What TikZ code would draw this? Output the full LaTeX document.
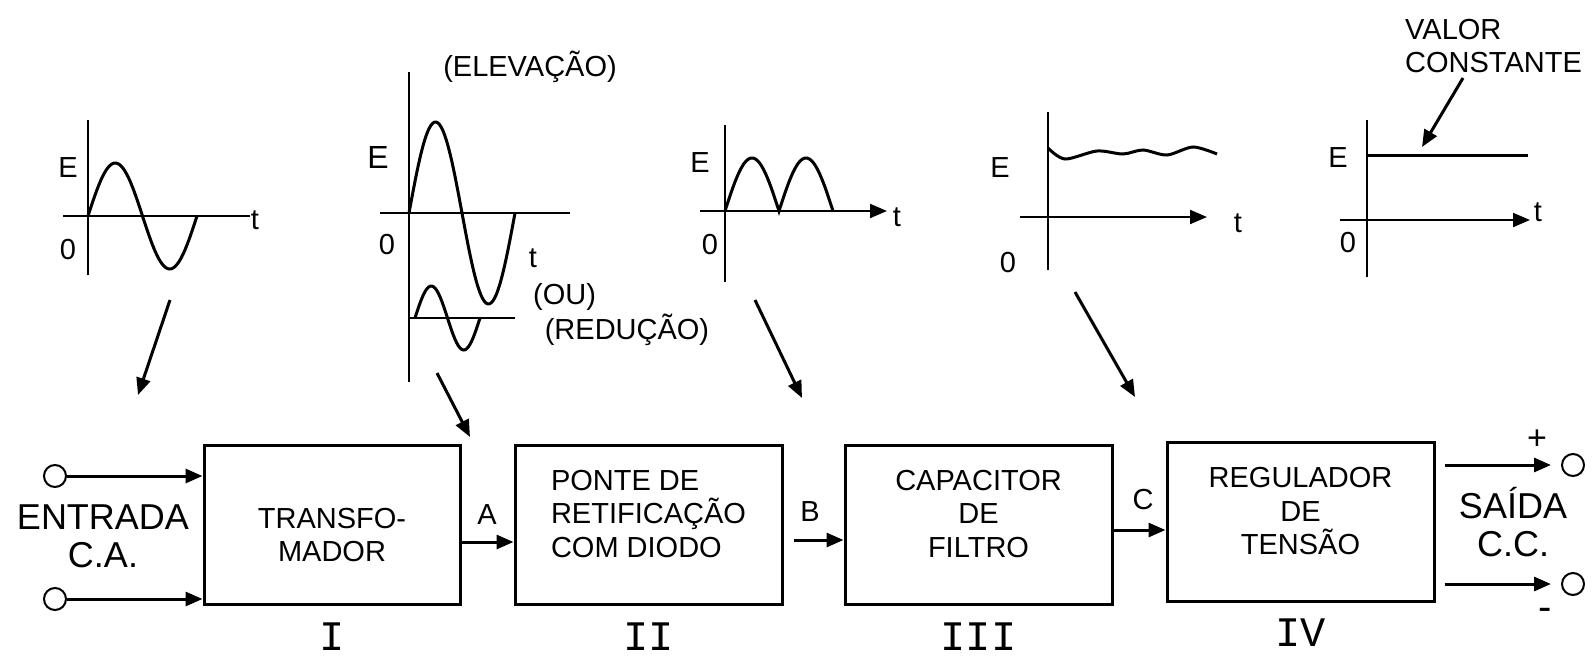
\documentclass[tikz,border=0pt]{standalone}
\usepackage{fontspec}
\setmainfont{Liberation Sans}
\newfontfamily\monoroman{Liberation Mono}
\usetikzlibrary{arrows.meta,positioning,calc}
\newcommand{\lblfont}{\fontsize{29}{33.5}\selectfont}
\newcommand{\capsfont}{\fontsize{36}{38}\selectfont}
\newcommand{\numfont}{\monoroman\fontsize{42}{42}\selectfont}

\begin{document}
\begin{tikzpicture}[
    x=1pt, y=-1pt,
    >={Triangle[length=17pt,width=14pt]},
    block/.style={rectangle, draw, line width=3pt, minimum width=267pt, minimum height=159pt},
    blocktext/.style={inner sep=0pt, align=center, font=\lblfont},
    lbl/.style={inner sep=0pt, font=\lblfont},
    caps/.style={inner sep=0pt, align=center, font=\capsfont},
    numeral/.style={inner sep=0pt, font=\numfont},
    term/.style={circle, draw, line width=2pt, minimum size=22pt, inner sep=0pt},
    axis/.style={line width=2pt},
    wave/.style={line width=3pt},
    flow/.style={->, line width=3pt}
]
    \useasboundingbox (0,0) rectangle (1596,657);

    % Blocks
    \node[block, minimum width=256pt] (trafo) at (332,525) {};
    \node[block, right=52pt of trafo] (ponte) {};
    \node[block, right=60pt of ponte] (filtro) {};
    \node[block, right=52pt of filtro, yshift=3.5pt] (regul) {};

    \node[blocktext] (trafo-txt) at ([yshift=-10pt]trafo.center) {TRANSFO-\\MADOR};
    \node[blocktext, align=left] (ponte-txt) at ([yshift=11pt]ponte.center) {PONTE DE\\RETIFICAÇÃO\\COM DIODO};
    \node[blocktext] (filtro-txt) at ([yshift=11pt]filtro.center) {CAPACITOR\\DE\\FILTRO};
    \node[blocktext] (regul-txt) at ([yshift=10pt]regul.center) {REGULADOR\\DE\\TENSÃO};

    \node[numeral, below=17pt of trafo] (n1) {I};
    \node[numeral, below=17pt of ponte] (n2) {II};
    \node[numeral, below=17pt of filtro] (n3) {III};
    \node[numeral, below=16pt of regul] (n4) {IV};

    % Input
    \node[term] (in1) at (55,476) {};
    \node[term] (in2) at (55,599) {};
    \node[caps] (entrada) at (103,536) {ENTRADA\\C.A.};
    \draw[flow] (in1) -- (in1 -| trafo.west);
    \draw[flow] (in2) -- (in2 -| trafo.west);

    % Links between blocks
    \draw[flow] ([yshift=-17pt]trafo.east) -- ([yshift=-17pt]trafo.east -| ponte.west);
    \draw[flow] ([xshift=10pt,yshift=-15pt]ponte.east) -- ([yshift=-15pt]ponte.east -| filtro.west);
    \draw[flow] ([yshift=-5pt]filtro.east) -- ([yshift=-5pt]filtro.east -| regul.west);
    \node[lbl] (la) at (487,515) {A};
    \node[lbl] (lb) at (810,512) {B};
    \node[lbl] (lc) at (1143,500) {C};

    % Output
    \node[term] (out1) at (1573,465) {};
    \node[term] (out2) at (1573,584) {};
    \draw[flow] ([xshift=9pt]regul.east |- out1) -- ([xshift=-10pt]out1.west);
    \draw[flow] ([xshift=9pt]regul.east |- out2) -- ([xshift=-10pt]out2.west);
    \node[lbl, font=\fontsize{34}{34}\selectfont] (plus) at (1537,440) {+};
    \node[lbl, font=\fontsize{40}{40}\selectfont] (minus) at (1545,614) {-};
    \node[caps] (saida) at (1513,522) {SAÍDA\\C.C.};

    % AC input wave
    \begin{scope}[shift={(88,216)}, yscale=-1]
        \draw[axis] (0,-59) -- (0,96);
        \draw[axis] (-25,0) -- (162,0);
        \draw[wave] plot[domain=0:109, samples=60, smooth] (\x, {53*sin(\x/109*360)});
        \node[lbl] (e1) at (-20,48) {E};
        \node[lbl] (o1) at (-20,-34) {0};
        \node[lbl] (t1) at (167,-4) {t};
    \end{scope}
    \draw[flow] (170,300) -- (138,395);

    % Transformer output
    \begin{scope}[shift={(409,213)}, yscale=-1]
        \draw[axis] (0,-169) -- (0,141);
        \draw[axis] (-29,0) -- (161,0);
        \draw[wave] plot[domain=0:106, samples=60, smooth] (\x, {91*sin(\x/106*360)});
        \draw[axis] (0,-105) -- (106,-105);
        \draw[wave] plot[domain=6:71, samples=40, smooth] (\x, {-105+32*sin((\x-6)/65*360)});
        \node[lbl, font=\fontsize{32}{32}\selectfont] (e2) at (-31,56) {E};
        \node[lbl] (o2) at (-22,-32) {0};
        \node[lbl] (t2) at (124,-45) {t};
        \node[lbl] (elev) at (121,146) {(ELEVAÇÃO)};
        \node[lbl, anchor=west] (ou) at (124,-84) {(OU)};
        \node[lbl] (redu) at (218,-117) {(REDUÇÃO)};
    \end{scope}
    \draw[flow] (437,373) -- (470,437);

    % Rectified wave
    \begin{scope}[shift={(725,211)}, yscale=-1]
        \draw[axis] (0,-71) -- (0,86);
        \draw[axis, ->] (-25,0) -- (162,0);
        \draw[wave] plot[domain=0:108, samples=109] (\x, {53*abs(sin(\x/54*180))});
        \node[lbl] (e3) at (-25,48) {E};
        \node[lbl] (o3) at (-15,-34) {0};
        \node[lbl] (t3) at (172,-6) {t};
    \end{scope}
    \draw[flow] (755,300) -- (802,398);

    % Filtered wave
    \begin{scope}[shift={(1048,217)}, yscale=-1]
        \draw[axis] (0,-53) -- (0,105);
        \draw[axis, ->] (-28,0) -- (159,0);
        \draw[wave] plot[smooth] coordinates {(0,69) (17,58) (49,66) (75,63) (95,67) (119,62) (145,70) (169,63)};
        \node[lbl] (e4) at (-48,49) {E};
        \node[lbl] (o4) at (-40,-46) {0};
        \node[lbl] (t4) at (190,-6) {t};
    \end{scope}
    \draw[flow] (1075,292) -- (1135,397);

    % Regulated output
    \begin{scope}[shift={(1367,220)}, yscale=-1]
        \draw[axis] (0,-57) -- (0,100);
        \draw[axis, ->] (-27,0) -- (163,0);
        \draw[wave] (0,65) -- (161,65);
        \node[lbl] (e5) at (-29,62) {E};
        \node[lbl] (o5) at (-19,-23) {0};
        \node[lbl] (t5) at (171,8) {t};
    \end{scope}
    \node[lbl, anchor=west, align=left] (valor) at (1405,46) {VALOR\\CONSTANTE};
    \draw[flow] (1463,78) -- (1422,147);
\end{tikzpicture}
\end{document}
